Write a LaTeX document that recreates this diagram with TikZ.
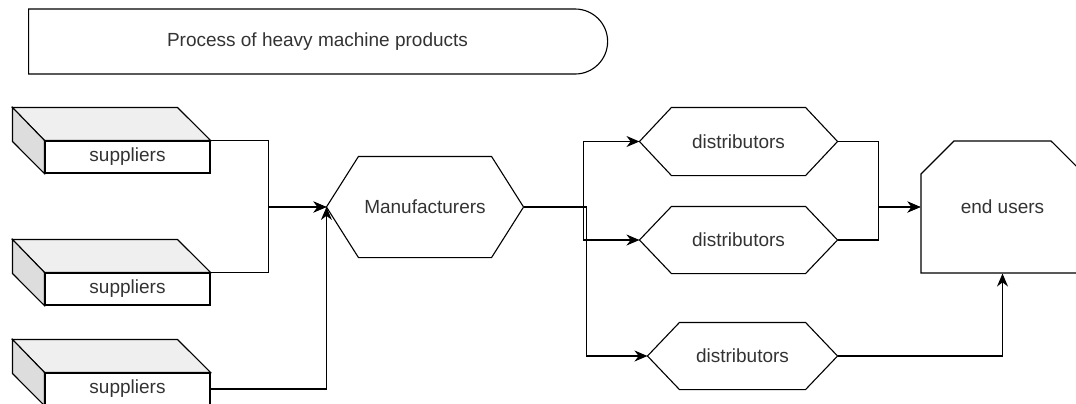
\documentclass[tikz,border=0pt]{standalone}
\usepackage{fontspec}
\setmainfont{Liberation Sans}
\usepackage{xcolor}
\usetikzlibrary{arrows.meta,calc,positioning,shapes.misc}
\definecolor{txtgray}{HTML}{333333}
\definecolor{topface}{HTML}{EFEFEF}
\definecolor{sideface}{HTML}{DDDDDD}

\begin{document}
\begin{tikzpicture}[x=0.5pt,y=-0.5pt,line width=0.55pt,
  every node/.style={font=\fontsize{9.5}{11}\selectfont,text=txtgray},
  front/.style={draw,fill=white,inner sep=0pt,minimum width=82.5pt,minimum height=16pt},
  hexa/.style={inner sep=0pt},
  link/.style={-{Stealth[length=6.5pt,width=5.5pt]}}]
  \useasboundingbox (0,0) rectangle (1076,403);
  % titre
  \node[draw,rounded rectangle,rounded rectangle left arc=none,inner sep=0pt,
        minimum width=289.5pt,minimum height=32.5pt] (title) at (317.5,41.5)
        {Process of heavy machine products};
  % fournisseurs (cubes)
  \node[front] (sup1) at (127.5,157) {suppliers};
  \node[front] (sup2) at (127.5,289) {suppliers};
  \node[front] (sup3) at (127.5,389) {suppliers};
  \foreach \s in {sup1,sup2,sup3}{
    \filldraw[fill=topface] (\s.north west) -- ++(-32,-33) -- ++(165,0) -- (\s.north east) -- cycle;
    \filldraw[fill=sideface] (\s.north west) -- ++(-32,-33) -- ++(0,34) -- (\s.south west) -- cycle;
  }
  % fabricant et distributeurs
  \node[hexa,minimum width=98pt,minimum height=50pt] (manu) at (425,207) {Manufacturers};
  \node[hexa,minimum width=98.5pt,minimum height=33.5pt] (dis1) at (738.5,141.5) {distributors};
  \node[hexa,minimum width=98.5pt,minimum height=33pt] (dis2) at (738.5,240) {distributors};
  \node[hexa,minimum width=94.5pt,minimum height=33pt] (dis3) at (742.5,356) {distributors};
  \foreach \h in {manu,dis1,dis2,dis3}
    \draw (\h.west) -- ($(\h.north west)+(32,0)$) -- ($(\h.north east)+(-32,0)$) -- (\h.east)
      -- ($(\h.south east)+(-32,0)$) -- ($(\h.south west)+(32,0)$) -- cycle;
  % utilisateurs
  \node[draw,fill=white,chamfered rectangle,chamfered rectangle corners={north west,north east},
        chamfered rectangle xsep=15.5pt,chamfered rectangle ysep=13pt,inner sep=0pt,
        minimum width=81.5pt,minimum height=66pt] (users) at (1002.5,207) {end users};
  % flux
  \draw[link] (sup1.north east) -- ++(58,0) |- (manu.west);
  \draw[link] (sup2.north east) -- ++(58,0) |- (manu.west);
  \draw[link] (sup3.east) -| (manu.west);
  \draw[link] (manu.east) -- ++(60,0) |- (dis1.west);
  \draw[link] (manu.east) -- ++(60,0) |- (dis2.west);
  \draw[link] (manu.east) -- ++(63,0) |- (dis3.west);
  \draw[link] (dis1.east) -- ++(41,0) |- (users.west);
  \draw[link] (dis2.east) -- ++(41,0) |- (users.west);
  \draw[link] (dis3.east) -| (users.south);
\end{tikzpicture}
\end{document}
